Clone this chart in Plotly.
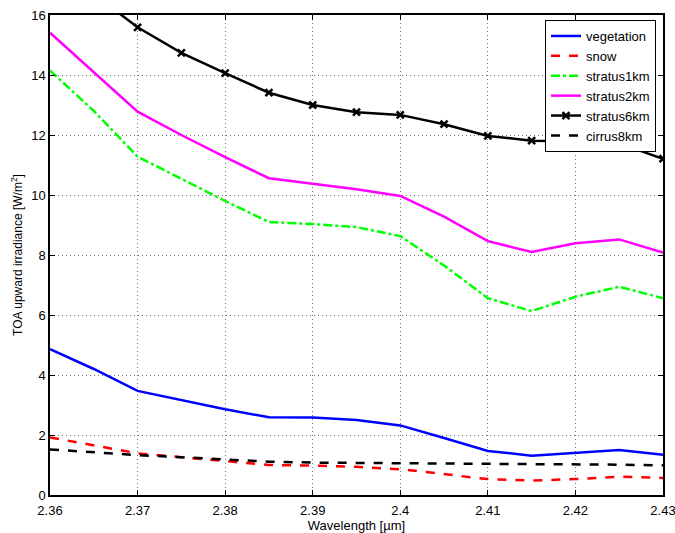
import plotly.graph_objects as go

wavelength = [2.360, 2.365, 2.370, 2.375, 2.380, 2.385, 2.390, 2.395,
              2.400, 2.405, 2.410, 2.415, 2.420, 2.425, 2.430]

vegetation = [4.86, 4.20, 3.47, 3.16, 2.86, 2.59, 2.58, 2.50,
              2.32, 1.90, 1.47, 1.31, 1.41, 1.50, 1.34]
snow = [1.92, 1.65, 1.39, 1.26, 1.14, 1.00, 0.98, 0.94,
        0.86, 0.70, 0.53, 0.48, 0.53, 0.61, 0.57]
stratus1km = [14.15, 12.80, 11.28, 10.55, 9.80, 9.10, 9.03, 8.93,
              8.63, 7.65, 6.56, 6.13, 6.61, 6.94, 6.56]
stratus2km = [15.41, 14.10, 12.78, 12.00, 11.26, 10.56, 10.37, 10.19,
              9.97, 9.28, 8.46, 8.10, 8.39, 8.52, 8.08]
stratus6km = [18.00, 16.70, 15.59, 14.74, 14.06, 13.41, 13.00, 12.76,
              12.67, 12.36, 11.97, 11.81, 11.79, 11.72, 11.21]
cirrus8km = [1.52, 1.42, 1.33, 1.26, 1.19, 1.11, 1.08, 1.07,
             1.06, 1.06, 1.06, 1.05, 1.03, 1.01, 0.99]

x_ticks = [2.36, 2.37, 2.38, 2.39, 2.40, 2.41, 2.42, 2.43]
x_tick_labels = ["2.36", "2.37", "2.38", "2.39", "2.4", "2.41", "2.42", "2.43"]
y_ticks = [0, 2, 4, 6, 8, 10, 12, 14, 16]

series = [
    ("vegetation", vegetation, "#0000ff", "solid", None),
    ("snow", snow, "#ff0000", "dash", None),
    ("stratus1km", stratus1km, "#00ff00", "dashdot", None),
    ("stratus2km", stratus2km, "#ff00ff", "solid", None),
    ("stratus6km", stratus6km, "#000000", "solid", "x-thin-open"),
    ("cirrus8km", cirrus8km, "#000000", "dash", None),
]

fig = go.Figure()
for name, vals, color, dash, marker in series:
    kw = dict(mode="lines")
    if marker:
        kw = dict(mode="lines+markers",
                  marker=dict(symbol=marker, size=7, color=color,
                              line=dict(width=2.5, color=color)))
    fig.add_trace(go.Scatter(x=wavelength, y=vals, name=name,
                             line=dict(color=color, width=2.5, dash=dash),
                             **kw))

font_family = "Liberation Sans, Arial, Helvetica, sans-serif"
axis_common = dict(
    showline=True, linecolor="black", linewidth=1.5, mirror="ticks",
    ticks="inside", ticklen=5, tickcolor="black", tickwidth=1,
    showgrid=True, gridcolor="rgba(0,0,0,0.55)", griddash="1px,3px", gridwidth=1,
    zeroline=False, automargin=False, ticklabeloverflow="allow",
    tickfont=dict(family=font_family, size=13, color="black"),
)

fig.update_xaxes(range=[2.36, 2.43], tickvals=x_ticks, ticktext=x_tick_labels,
                 ticklabelstandoff=3,
                 title=dict(text="Wavelength [µm]", standoff=3,
                            font=dict(family=font_family, size=13, color="black")),
                 **axis_common)
fig.update_yaxes(range=[0, 16], tickvals=y_ticks,
                 title=dict(text="TOA upward irradiance [W/m<sup>2</sup>]", standoff=6,
                            font=dict(family=font_family, size=12, color="black")),
                 **axis_common)

fig.update_layout(
    width=675, height=533,
    margin=dict(l=50, r=12, t=15, b=38),
    paper_bgcolor="white", plot_bgcolor="white",
    font=dict(family=font_family, size=12, color="black"),
    legend=dict(x=0.9886, y=0.9896, xanchor="right", yanchor="top",
                bgcolor="white", bordercolor="black", borderwidth=1,
                font=dict(family=font_family, size=13, color="black"),
                tracegroupgap=0, itemwidth=30),
)

fig.write_html("out.html")
